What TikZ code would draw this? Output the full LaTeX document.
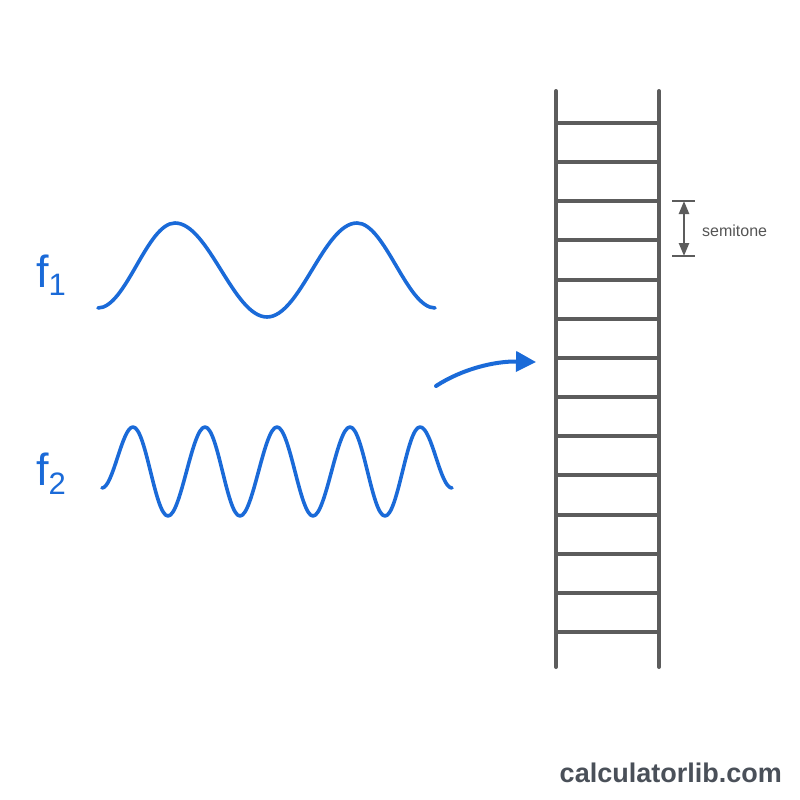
\documentclass[tikz,border=0pt]{standalone}
\usepackage{fontspec}
\setmainfont{Liberation Sans}
\usetikzlibrary{arrows.meta}
\definecolor{waveblue}{HTML}{1A6AD8}
\definecolor{laddergray}{HTML}{5C5C5C}
\definecolor{textgray}{HTML}{555555}
\definecolor{brandgray}{HTML}{4A5059}
\tikzset{
  wave/.style={draw=waveblue, line width=3.6pt, line cap=round, line join=round},
  rail/.style={draw=laddergray, line width=4pt, line cap=round},
  rung/.style={draw=laddergray, line width=4pt},
  flabel/.style={text=waveblue, inner sep=0pt, anchor=base west},
  dimbar/.style={draw=laddergray, line width=2.4pt},
  dimarrow/.style={draw=laddergray, line width=2.4pt, {Triangle[length=13pt,width=10pt]}-{Triangle[length=13pt,width=10pt]}},
  bigarrow/.style={draw=waveblue, line width=4pt, line cap=round, -{Triangle[length=20pt,width=20pt]}},
}
\begin{document}
\begin{tikzpicture}[x=1pt,y=-1pt]
\useasboundingbox[fill=white] (0,0) rectangle (800,800);

% labels
\node[flabel] (f1) at (36,287) {\fontsize{45}{45}\selectfont f\raisebox{-8pt}{\fontsize{31}{31}\selectfont 1}};
\node[flabel] (f2) at (36,485) {\fontsize{45}{45}\selectfont f\raisebox{-9pt}{\fontsize{31}{31}\selectfont 2}};

% f1 wave
\draw[wave] (98,308)
  .. controls (126,308) and (147,223) .. (175,223)
  .. controls (208.5,223) and (233.5,317) .. (267,317)
  .. controls (300,317) and (324,223) .. (357,223)
  .. controls (385,223) and (407,308) .. (435,308);

% f2 wave
\draw[wave] (102,488)
  .. controls (113,488) and (122,427) .. (133,427)
  .. controls (146,427) and (155,516) .. (168,516)
  .. controls (181,516) and (192,427) .. (205,427)
  .. controls (218,427) and (227,516) .. (240,516)
  .. controls (253,516) and (264,427) .. (277,427)
  .. controls (290,427) and (300,516) .. (313,516)
  .. controls (326,516) and (337,427) .. (350,427)
  .. controls (363,427) and (372,516) .. (385,516)
  .. controls (398,516) and (407,427) .. (420,427)
  .. controls (432,427) and (440,488) .. (452,488);

% arrow
\coordinate (as) at (436,386);
\coordinate (ae) at (536,362);
\draw[bigarrow] (as) .. controls (462,369) and (495,361) .. (ae);

% ladder
\coordinate (lt) at (556,91);
\coordinate (lb) at (556,667);
\coordinate (rt) at (659,91);
\coordinate (rb) at (659,667);
\foreach \i in {0,...,13} {
  \draw[rung] ({556},{123+39.15*\i}) -- ({659},{123+39.15*\i});
}
\draw[rail] (lt) -- (lb);
\draw[rail] (rt) -- (rb);

% semitone marker
\coordinate (st1) at (672,201);
\coordinate (st2) at (695,201);
\coordinate (sb1) at (672,256);
\coordinate (sb2) at (695,256);
\coordinate (sa) at (684,201);
\coordinate (sb) at (684,256);
\draw[dimbar] (st1) -- (st2);
\draw[dimbar] (sb1) -- (sb2);
\draw[dimarrow] (sa) -- (sb);
\node[anchor=west, inner sep=0pt, text=textgray, font=\fontsize{16}{16}\selectfont] (semi) at (702,231) {semitone};

% brand
\node[anchor=base east, inner sep=0pt, text=brandgray, font=\fontsize{27}{27}\selectfont\bfseries] (brand) at (782,782) {calculatorlib.com};
\end{tikzpicture}
\end{document}
